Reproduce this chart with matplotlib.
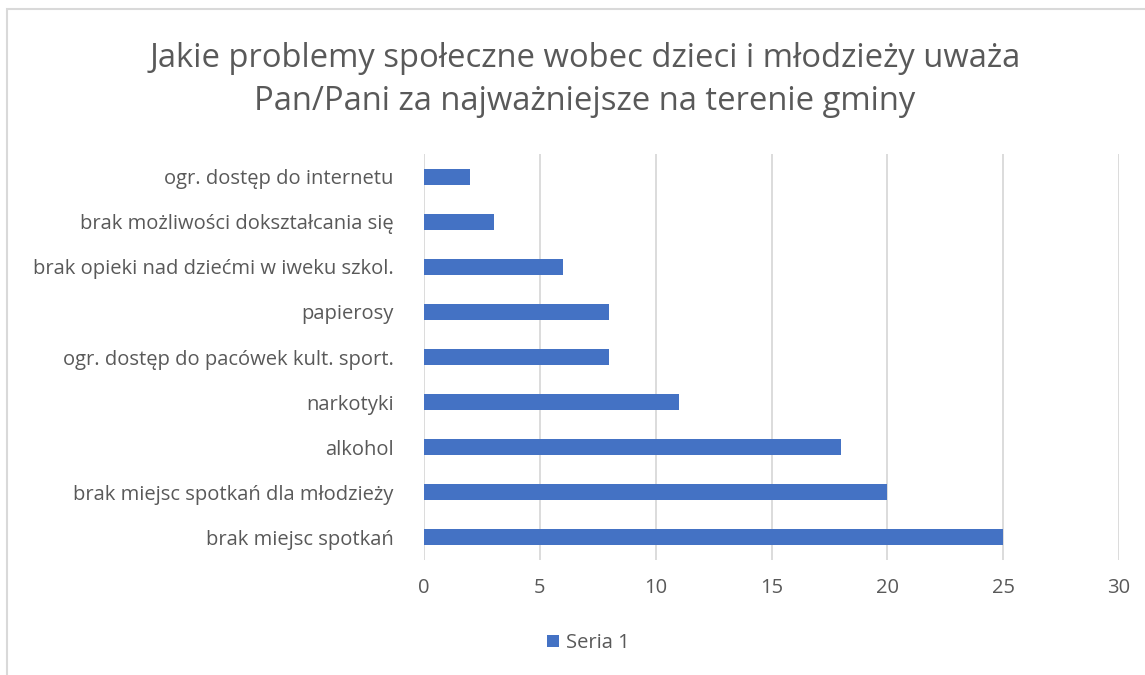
import matplotlib.pyplot as plt
from matplotlib.patches import Rectangle

categories = [
    "brak miejsc spotkań",
    "brak miejsc spotkań dla młodzieży",
    "alkohol",
    "narkotyki",
    "ogr. dostęp do pacówek kult. sport.",
    "papierosy",
    "brak opieki nad dziećmi w iweku szkol.",
    "brak możliwości dokształcania się",
    "ogr. dostęp do internetu",
]
values = [25, 20, 18, 11, 8, 8, 6, 3, 2]
xticks = [0, 5, 10, 15, 20, 25, 30]
series_name = "Seria 1"
title = "Jakie problemy społeczne wobec dzieci i młodzieży uważa\nPan/Pani za najważniejsze na terenie gminy"

plt.rcParams['font.family'] = ['Open Sans', 'DejaVu Sans']
grey = "#595959"

W, H = 1145, 675
fig = plt.figure(figsize=(W / 100, H / 100), dpi=100)

# chart frame (cut off on the right and bottom, as in the screenshot)
fig.patches.append(Rectangle((7 / W, -0.1), 1.2, 1 - 9 / H + 0.1, transform=fig.transFigure,
                             fill=False, edgecolor="#d9d9d9", linewidth=1.5))

ax = fig.add_axes([424 / W, 1 - 560 / H, (1119 - 424) / W, (560 - 154) / H])
pos = list(range(len(categories)))
ax.barh(pos, values, height=0.355, color="#4472C4", label=series_name, zorder=3)
ax.set_xlim(0, 30)
ax.set_ylim(-0.5, len(categories) - 0.5)
ax.set_xticks(xticks)
ax.set_yticks(pos)
ax.set_yticklabels(categories)
ax.grid(axis="x", color="#d9d9d9", linewidth=1.3, zorder=0)
for s in ax.spines.values():
    s.set_visible(False)
ax.tick_params(axis="both", length=0, labelsize=14.5, labelcolor=grey)
ax.tick_params(axis="x", pad=13)
ax.tick_params(axis="y", pad=22)

fig.text(585 / W, 1 - 80 / H, title, ha="center", va="center", fontsize=23.6,
         color=grey, linespacing=1.4)

fig.legend(loc="center", bbox_to_anchor=(588 / W, 1 - 643 / H), frameon=False,
           fontsize=14.5, labelcolor=grey, handlelength=0.6, handleheight=0.6,
           handletextpad=0.35)

fig.savefig("out.png", dpi=100)
